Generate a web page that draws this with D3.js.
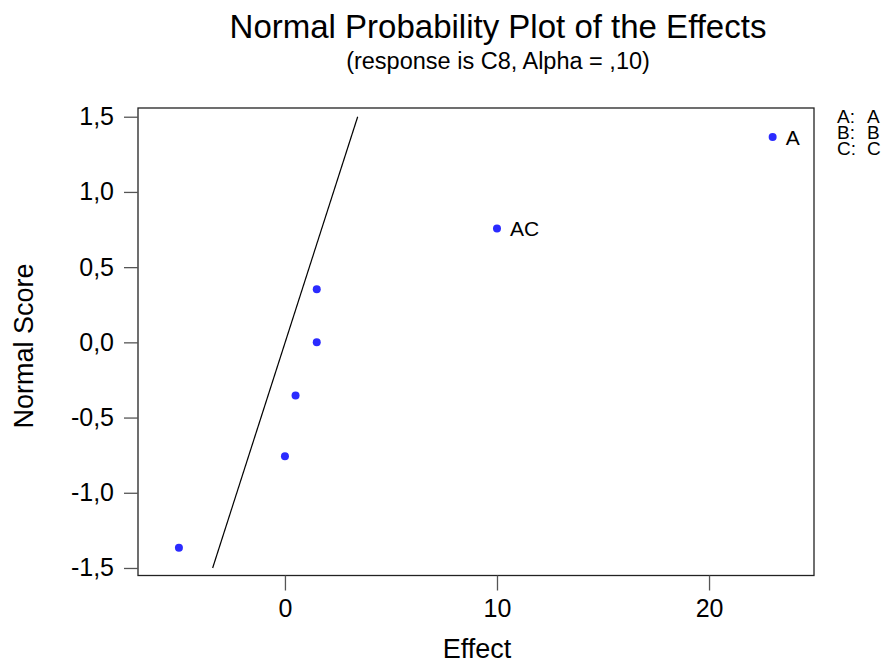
<!DOCTYPE html>
<html>
<head>
<meta charset="utf-8">
<script src="https://cdn.jsdelivr.net/npm/d3@7"></script>
<style>
  body { margin: 0; background: #fff; }
  text { font-family: "Liberation Sans", Arial, sans-serif; fill: #000; }
</style>
</head>
<body>
<script>
// effects and their normal scores
const effects = [-5, 0, 0.5, 1.5, 1.5, 10, 23];
const scores = [-1.366, -0.757, -0.353, 0, 0.353, 0.757, 1.366];
const labels = ["", "", "", "", "", "AC", "A"];

// fitted line end points (effect, score)
const lineEffects = [-3.41, 3.43];
const lineScores = [-1.5, 1.5];

const xTicks = [0, 10, 20];
const yTicks = [-1.5, -1.0, -0.5, 0, 0.5, 1.0, 1.5];

const legendKeys = ["A:", "B:", "C:"];
const legendNames = ["A", "B", "C"];

const width = 887, height = 663;
const plotLeft = 138, plotRight = 814, plotTop = 108, plotBottom = 575.5;

const svg = d3.select("body").append("svg")
  .attr("width", width)
  .attr("height", height);

const x = d3.scaleLinear().domain([-6.93, 24.95]).range([plotLeft, plotRight]);
const y = d3.scaleLinear().domain([-1.55, 1.558]).range([plotBottom, plotTop]);

// comma decimals, plain hyphen for minus
const fmt = d => d3.format(".1f")(d).replace("−", "-").replace(".", ",");

// frame
svg.append("rect")
  .attr("x", plotLeft).attr("y", plotTop)
  .attr("width", plotRight - plotLeft).attr("height", plotBottom - plotTop)
  .attr("fill", "none").attr("stroke", "#222").attr("stroke-width", 1.3);

// axes
const xAxis = svg.append("g")
  .attr("transform", `translate(0,${plotBottom})`)
  .call(d3.axisBottom(x).tickValues(xTicks).tickSize(15).tickPadding(9).tickFormat(d3.format("d")));

const yAxis = svg.append("g")
  .attr("transform", `translate(${plotLeft},0)`)
  .call(d3.axisLeft(y).tickValues(yTicks).tickSize(14).tickPadding(10).tickFormat(fmt));

[xAxis, yAxis].forEach(g => {
  g.select(".domain").remove();
  g.selectAll(".tick line").attr("stroke", "#555").attr("stroke-width", 1.3);
  g.selectAll(".tick text")
    .attr("font-size", 25)
    .attr("font-family", "Liberation Sans, Arial, sans-serif")
    .attr("fill", "#000");
});

// reference line
svg.append("line")
  .attr("x1", x(lineEffects[0])).attr("y1", y(lineScores[0]))
  .attr("x2", x(lineEffects[1])).attr("y2", y(lineScores[1]))
  .attr("stroke", "#000").attr("stroke-width", 1.2);

// points
svg.selectAll(".pt")
  .data(effects)
  .enter()
  .append("circle")
  .attr("class", "pt")
  .attr("cx", d => x(d))
  .attr("cy", (d, i) => y(scores[i]))
  .attr("r", 4)
  .attr("fill", "#2b2bff");

svg.selectAll(".plabel")
  .data(effects)
  .enter()
  .append("text")
  .attr("class", "plabel")
  .attr("x", d => x(d) + 13)
  .attr("y", (d, i) => y(scores[i]) + 8)
  .attr("font-size", 21)
  .text((d, i) => labels[i]);

// titles
svg.append("text")
  .attr("x", 498).attr("y", 38)
  .attr("text-anchor", "middle")
  .attr("font-size", 33)
  .text("Normal Probability Plot of the Effects");

svg.append("text")
  .attr("x", 498).attr("y", 69)
  .attr("text-anchor", "middle")
  .attr("font-size", 23.5)
  .text("(response is C8, Alpha = ,10)");

svg.append("text")
  .attr("x", 477).attr("y", 658)
  .attr("text-anchor", "middle")
  .attr("font-size", 27)
  .text("Effect");

svg.append("text")
  .attr("transform", "translate(33,346) rotate(-90)")
  .attr("text-anchor", "middle")
  .attr("font-size", 27)
  .text("Normal Score");

// legend
const legend = svg.selectAll(".leg")
  .data(legendKeys)
  .enter()
  .append("g")
  .attr("class", "leg")
  .attr("transform", (d, i) => `translate(837,${122.7 + i * 16.3})`);

legend.append("text").attr("font-size", 19).text(d => d);
legend.append("text").attr("x", 30).attr("font-size", 19).text((d, i) => legendNames[i]);
</script>
</body>
</html>
